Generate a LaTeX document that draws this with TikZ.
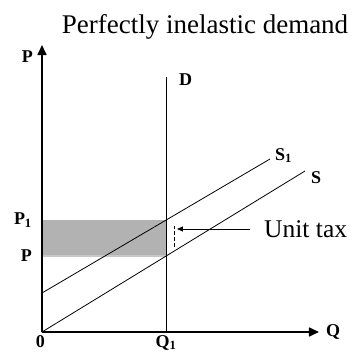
\documentclass[tikz,border=0pt]{standalone}
\usepackage{fontspec}
\setmainfont{Liberation Serif}
\usepackage{tikz}
\usetikzlibrary{arrows.meta, positioning, calc}
\tikzset{
    axis/.style={line width=1.6pt, -{Triangle[length=10pt,width=9pt]}},
    curve/.style={line width=0.8pt},
    lbl/.style={font=\fontsize{18}{21}\selectfont\bfseries, inner sep=1pt}
}

\begin{document}
\begin{tikzpicture}[
    x=1pt, y=1pt,
    >=stealth,
    taxarrow/.style={line width=0.8pt, -{Triangle[length=6pt,width=5pt]}},
    titlebox/.style={font=\fontsize{27}{31}\selectfont, inner sep=0pt, anchor=base}
]
    \useasboundingbox (-42,-28) rectangle (311,332);

    % Points
    \coordinate (O) at (0,0);
    \coordinate (ytop) at (0,287);
    \coordinate (xend) at (277,0);
    \coordinate (Dtop) at (124,255);
    \coordinate (Dbot) at (124,0);
    \coordinate (pone) at (0,112);
    \coordinate (pzero) at (0,76);
    \coordinate (eone) at (124,112);
    \coordinate (ezero) at (124,76);
    \coordinate (Send) at (263,161);
    \coordinate (Sonestart) at (0,39);
    \coordinate (Soneend) at (228,173);
    \coordinate (taxtop) at (132,106);
    \coordinate (taxbot) at (132,85);

    % Tax burden area
    \fill [black!30] (pone) rectangle (ezero);
    \draw [black!22, line width=1.2pt] (pzero) -- (ezero);

    % Title
    \node (title) [titlebox] at (163,299) {Perfectly inelastic demand};

    % Demand
    \draw [curve] (Dbot) -- (Dtop);
    \node (Dlab) [lbl, anchor=north west] at (136,259) {D};

    % Supply before and after the tax
    \draw [curve] (O) -- (Send);
    \draw [curve] (Sonestart) -- (Soneend);
    \node (Slab) [lbl, anchor=south west] at (268,147) {S};
    \node (Sonelab) [lbl, anchor=south west] at (232,168) {S\textsubscript{1}};

    % Unit tax
    \draw [curve, dashed, dash pattern=on 4pt off 2pt] (taxbot) -- (taxtop);
    \node (taxlab) [font=\fontsize{25.5}{29}\selectfont, anchor=west, inner sep=0pt] at (222,103) {Unit tax};
    \coordinate (taxtip) at (135,103);
    \draw [taxarrow] ($(taxlab.west)+(-14,0)$) -- (taxtip);

    % Axes
    \draw [axis] (O) -- (ytop);
    \draw [axis] (O) -- (xend);
    \node (Plab) [lbl, left=8pt of ytop, yshift=-12pt] {P};
    \node (Qlab) [lbl, right=6pt of xend] {Q};
    \node (Olab) [lbl, below left=2pt and -4pt of O] {0};
    \node (Q1lab) [lbl, below=2pt of Dbot] {Q\textsubscript{1}};
    \node (P1lab) [lbl, left=9pt of pone] {P\textsubscript{1}};
    \node (P0lab) [lbl, left=9pt of pzero] {P};

\end{tikzpicture}
\end{document}
